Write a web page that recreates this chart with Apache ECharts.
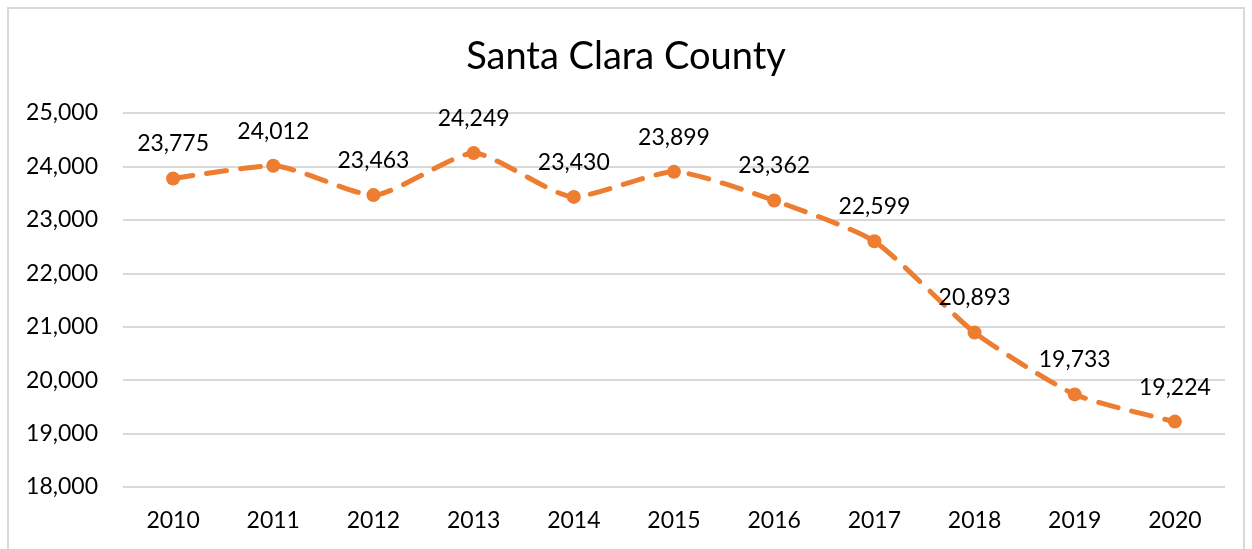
<!DOCTYPE html>
<html><head><meta charset="utf-8">
<script src="https://cdn.jsdelivr.net/npm/echarts@6/dist/echarts.min.js"></script>
<style>
html,body{margin:0;padding:0;background:#fff;}
#frame{position:absolute;left:7px;top:7px;width:1238px;height:560px;border:2px solid #d9d9d9;box-sizing:border-box;}
#c{position:absolute;left:0;top:0;width:1252px;height:549px;}
</style></head>
<body>
<div id="frame"></div>
<div id="c"></div>
<script>
const title = "Santa Clara County";
const years = ["2010","2011","2012","2013","2014","2015","2016","2017","2018","2019","2020"];
const values = [23775, 24012, 23463, 24249, 23430, 23899, 23362, 22599, 20893, 19733, 19224];
const yMin = 18000, yMax = 25000, yStep = 1000;

const font = "Lato, 'Open Sans', sans-serif";
const chart = echarts.init(document.getElementById('c'));
chart.setOption({
  backgroundColor: 'transparent',
  animation: false,
  title: {
    text: title, left: 'center', top: 33,
    textStyle: {fontFamily: font, fontSize: 38, fontWeight: 'normal', color: '#000'}
  },
  grid: {left: 123, right: 27, top: 113, bottom: 62},
  xAxis: {
    type: 'category', data: years, boundaryGap: true,
    axisLine: {show: false}, axisTick: {show: false},
    axisLabel: {fontFamily: font, fontSize: 23, color: '#000', margin: 22}
  },
  yAxis: {
    type: 'value', min: yMin, max: yMax, interval: yStep,
    axisLine: {show: false}, axisTick: {show: false},
    splitLine: {lineStyle: {color: '#d9d9d9', width: 2}},
    axisLabel: {fontFamily: font, fontSize: 23, color: '#000', margin: 25,
      formatter: v => v.toLocaleString('en-US')}
  },
  series: [{
    type: 'line', data: values, smooth: 0.2,
    symbol: 'circle', symbolSize: 14,
    itemStyle: {color: '#ED7D31'},
    lineStyle: {color: '#ED7D31', width: 5, type: [20, 14], cap: 'round'},
    label: {show: true, position: 'top', distance: 16, fontFamily: font, fontSize: 23, color: '#000',
      formatter: p => p.value.toLocaleString('en-US')}
  }]
});
</script>
</body></html>
